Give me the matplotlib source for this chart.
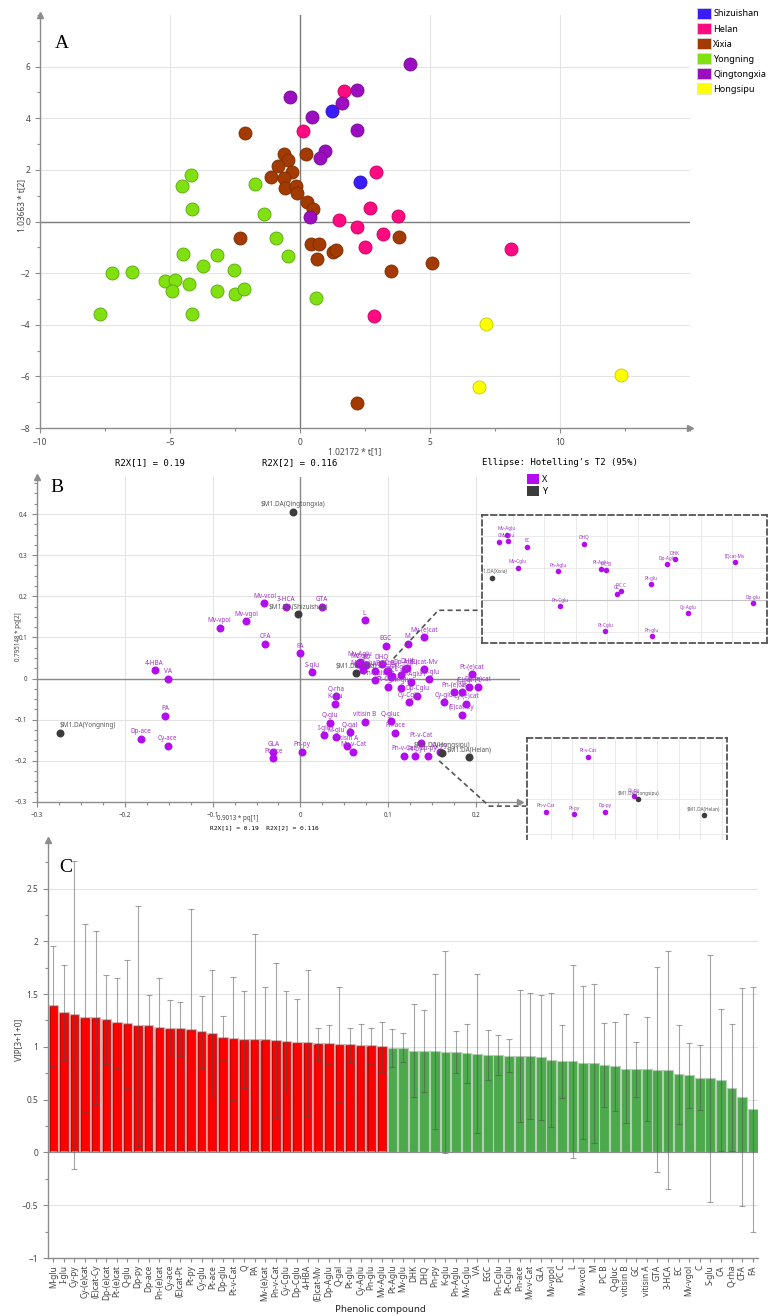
import numpy as np
import matplotlib
matplotlib.use('Agg')
import matplotlib.pyplot as plt
from matplotlib.patches import Patch
from matplotlib.ticker import MultipleLocator, FuncFormatter

# ---------------- panel A : OPLS-DA scores, one list pair per region
regions = ['Shizuishan', 'Helan', 'Xixia', 'Yongning', 'Qingtongxia', 'Hongsipu']

shizuishan_t1 = [1.24, 2.31]
shizuishan_t2 = [4.30, 1.52]
helan_t1 = [1.69, 0.12, 2.94, 2.69, 1.50, 2.18, 3.77, 3.19, 2.50, 2.85, 8.10]
helan_t2 = [5.04, 3.52, 1.91, 0.54, 0.07, -0.22, 0.20, -0.47, -1.00, -3.68, -1.08]
xixia_t1 = [-2.12, -0.61, -0.45, 0.23, -0.86, -0.31, -1.12, -0.62, -0.58, -0.15, -0.12,
            0.27, 0.51, -2.31, 0.42, 0.72, 0.65, 1.26, 1.38, 3.49, 2.18, 3.80, 5.07]
xixia_t2 = [3.41, 2.63, 2.39, 2.63, 2.14, 1.91, 1.72, 1.69, 1.31, 1.36, 1.10,
            0.74, 0.47, -0.65, -0.88, -0.88, -1.46, -1.19, -1.10, -1.90, -7.05, -0.60, -1.62]
yongning_t1 = [-4.18, -4.55, -4.15, -1.74, -1.39, -0.93, -0.46, -4.49, -3.18, -3.74, -2.54, -7.22,
               -6.47, -5.19, -4.79, -4.27, -4.92, -3.18, -2.50, -2.15, -7.70, -4.15, 0.60]
yongning_t2 = [1.82, 1.37, 0.48, 1.47, 0.30, -0.65, -1.35, -1.25, -1.28, -1.74, -1.86, -2.00,
               -1.94, -2.32, -2.25, -2.41, -2.71, -2.71, -2.80, -2.60, -3.57, -3.60, -2.98]
qingtongxia_t1 = [-0.38, 0.47, 1.63, 2.18, 2.18, 0.97, 0.76, 0.38, 4.23]
qingtongxia_t2 = [4.81, 4.03, 4.60, 5.08, 3.53, 2.73, 2.47, 0.17, 6.12]
hongsipu_t1 = [7.15, 6.87, 12.35]
hongsipu_t2 = [-3.96, -6.43, -5.93]

scoreT1 = [shizuishan_t1, helan_t1, xixia_t1, yongning_t1, qingtongxia_t1, hongsipu_t1]
scoreT2 = [shizuishan_t2, helan_t2, xixia_t2, yongning_t2, qingtongxia_t2, hongsipu_t2]

regionColors = {}
regionColors['Shizuishan'] = ('#3a1cff', '#2a10c0')
regionColors['Helan'] = ('#ff0a80', '#c80060')
regionColors['Xixia'] = ('#a33b00', '#7a2c00')
regionColors['Yongning'] = ('#80e010', '#5aa80a')
regionColors['Qingtongxia'] = ('#9b0ec0', '#720a90')
regionColors['Hongsipu'] = ('#ffff00', '#c8c800')

# ---------------- panel B : loadings pq[1], pq[2]
# spread out loadings
x_names = ['Mv-vpol', 'Mv-vgol', '4-HBA', 'VA', 'PA', 'Dp-ace', 'Cy-ace', 'Mv-vcol', '3-HCA', 'GTA',
           'L', 'CFA', 'FA', 'S-glu', 'EGC', 'M', 'Mv-(e)cat', 'Pt-(e)cat', 'Dp-(e)cat', '(E)cat-Pt',
           'Q', 'Pn-(e)cat', 'Cy-(e)cat', '(E)cat-Cy', 'Cy-glu', 'Dp-Cglu', 'Cy-Cglu', 'Q-rha', 'K-glu',
           'vitisin B', 'Q-gluc', 'Pn-ace', 'Q-glu', 'Q-gal', 'I-glu', 'M-glu', 'vitisin A', 'Mv-v-Cat',
           'GLA', 'Pt-ace', 'Pn-py']
x_p1 = [-0.092, -0.062, -0.166, -0.151, -0.154, -0.182, -0.151, -0.041, -0.016, 0.024,
        0.073, -0.040, 0.000, 0.013, 0.097, 0.122, 0.141, 0.195, 0.202, 0.192,
        0.184, 0.175, 0.189, 0.184, 0.163, 0.133, 0.124, 0.041, 0.039,
        0.073, 0.103, 0.108, 0.034, 0.056, 0.027, 0.040, 0.053, 0.060,
        -0.031, -0.031, 0.002]
x_p2 = [0.124, 0.139, 0.020, 0.000, -0.090, -0.146, -0.163, 0.183, 0.175, 0.175,
        0.142, 0.085, 0.061, 0.015, 0.080, 0.085, 0.100, 0.010, -0.020, -0.020,
        -0.032, -0.032, -0.061, -0.088, -0.058, -0.042, -0.058, -0.043, -0.061,
        -0.105, -0.104, -0.132, -0.107, -0.130, -0.138, -0.143, -0.163, -0.178,
        -0.178, -0.193, -0.178]
# crowded centre (upper zoom box)
centre_names = ['Mv-Aglu', 'C', 'Mv-glu', 'EC', 'DHQ', 'Mv-Cglu', 'Pn-Aglu', 'Pt-Aglu', 'PC B', 'PC C',
                'GC', 'Pt-glu', 'Dp-Aglu', 'DHK', '(E)cat-Mv', 'Dp-glu', 'Cy-Aglu', 'Pn-Cglu',
                'Pt-Cglu', 'Pn-glu']
centre_p1 = [0.0679, 0.0655, 0.0682, 0.0745, 0.0927, 0.0714, 0.0844, 0.0980, 0.0996, 0.1045,
             0.1031, 0.1140, 0.1194, 0.1218, 0.1412, 0.1467, 0.1261, 0.0850, 0.0994, 0.1144]
centre_p2 = [0.0404, 0.0362, 0.0366, 0.0331, 0.0350, 0.0199, 0.0178, 0.0194, 0.0186, 0.0056,
             0.0039, 0.0098, 0.0222, 0.0253, 0.0236, -0.0020, -0.0081, -0.0039, -0.0193, -0.0224]
# near Hongsipu / Helan (lower zoom box)
low_names = ['Pn-v-Cat', 'Pt-py', 'Dp-py', 'Cy-py', 'Pt-v-Cat']
low_p1 = [0.1178, 0.1308, 0.1456, 0.1589, 0.1377]
low_p2 = [-0.1874, -0.1888, -0.1874, -0.1785, -0.1562]
# class (Y) loadings
y_names = ['$M1.DA(Yongning)', '$M1.DA(Shizuishan)', '$M1.DA(Qingtongxia)', '$M1.DA(Xixia)',
           '$M1.DA(Hongsipu)', '$M1.DA(Helan)']
y_p1 = [-0.274, -0.003, -0.008, 0.0631, 0.161, 0.1916]
y_p2 = [-0.132, 0.156, 0.405, 0.0139, -0.1803, -0.1894]

# ---------------- panel C : VIP with confidence intervals
vip_high_names = ['M-glu', 'I-glu', 'Cy-py', 'Cy-(e)cat', '(E)cat-Cy', 'Dp-(e)cat', 'Pt-(e)cat', 'Q-glu',
                  'Dp-py', 'Dp-ace', 'Pn-(e)cat', 'Cy-ace', '(E)cat-Pt', 'Pt-py', 'Cy-glu', 'Pt-ace',
                  'Dp-glu', 'Pt-v-Cat', 'Q', 'PA', 'Mv-(e)cat', 'Pn-v-Cat', 'Cy-Cglu', 'Dp-Cglu',
                  '4-HBA', '(E)cat-Mv', 'Dp-Aglu', 'Q-gal', 'Pt-glu', 'Cy-Aglu', 'Pn-glu', 'Mv-Aglu']
vip_high = [1.387, 1.324, 1.300, 1.277, 1.277, 1.258, 1.226, 1.217, 1.198, 1.198, 1.182, 1.173,
            1.170, 1.164, 1.140, 1.126, 1.082, 1.079, 1.069, 1.069, 1.063, 1.060, 1.047, 1.038,
            1.035, 1.028, 1.025, 1.022, 1.019, 1.013, 1.009, 1.000]
vip_high_ci = [0.57, 0.45, 1.46, 0.89, 0.82, 0.42, 0.43, 0.61, 1.14, 0.29, 0.47, 0.27,
               0.255, 1.14, 0.34, 0.60, 0.21, 0.58, 0.46, 1.00, 0.50, 0.73, 0.48, 0.415,
               0.69, 0.15, 0.185, 0.545, 0.16, 0.20, 0.17, 0.24]
vip_low_names = ['Pt-Aglu', 'Mv-glu', 'DHK', 'DHQ', 'Pn-py', 'K-glu', 'Pn-Aglu', 'Mv-Cglu', 'VA', 'EGC',
                 'Pn-Cglu', 'Pt-Cglu', 'Pn-ace', 'Mv-v-Cat', 'GLA', 'Mv-vpol', 'PC C', 'L', 'Mv-vcol',
                 'M', 'PC B', 'Q-gluc', 'vitisin B', 'GC', 'vitisin A', 'GTA', '3-HCA', 'EC', 'Mv-vgol',
                 'C', 'S-glu', 'CA', 'Q-rha', 'CFA', 'FA']
vip_low = [0.994, 0.994, 0.965, 0.959, 0.959, 0.950, 0.950, 0.940, 0.937, 0.924, 0.924, 0.918,
           0.915, 0.912, 0.900, 0.874, 0.864, 0.864, 0.852, 0.845, 0.830, 0.817, 0.795, 0.789,
           0.789, 0.785, 0.779, 0.741, 0.729, 0.710, 0.703, 0.685, 0.615, 0.524, 0.407]
vip_low_ci = [0.18, 0.14, 0.44, 0.39, 0.735, 0.955, 0.20, 0.28, 0.757, 0.24, 0.186, 0.158,
              0.624, 0.596, 0.595, 0.637, 0.347, 0.912, 0.722, 0.755, 0.397, 0.42, 0.514, 0.26,
              0.49, 0.97, 1.13, 0.47, 0.31, 0.31, 1.17, 0.67, 0.60, 1.03, 1.16]

# ---------------------------------------------------------------- figure
plt.rcParams['font.family'] = ['Noto Sans', 'DejaVu Sans']
W, H = 768, 1316
fig = plt.figure(figsize=(W / 100, H / 100), dpi=100)

AXIS = '#8c8c8c'
GRID = '#e4e4e4'
PURPLE = '#b30cf0'
PURPLE_TXT = '#a032c8'
DARK = '#3c3c3c'


def box(x0, y0, x1, y1):
    # axes placed by their pixel corners in the reference
    return fig.add_axes([x0 / W, 1 - y1 / H, (x1 - x0) / W, (y1 - y0) / H])


def fmt(v, pos):
    if abs(v) < 1e-9:
        return '0'
    return ('%g' % round(v, 6)).replace('-', '\u2212')


def simca_axes(ax, labelsize, arrow_x=True):
    ax.spines['top'].set_visible(False)
    ax.spines['right'].set_visible(False)
    for s in ['left', 'bottom']:
        ax.spines[s].set_color(AXIS)
        ax.spines[s].set_linewidth(1.0)
    ax.tick_params(which='both', direction='out', color=AXIS, labelcolor='#444444',
                   labelsize=labelsize, width=0.8)
    ax.tick_params(which='major', length=3.5)
    ax.tick_params(which='minor', length=2)
    ax.xaxis.set_major_formatter(FuncFormatter(fmt))
    ax.yaxis.set_major_formatter(FuncFormatter(fmt))
    ax.plot(0, 1, '^', transform=ax.transAxes, clip_on=False, color=AXIS, ms=5, zorder=6)
    if arrow_x:
        ax.plot(1, 0, '>', transform=ax.transAxes, clip_on=False, color=AXIS, ms=5, zorder=6)
    ax.set_axisbelow(True)


def ftext(x, y, s, **kw):
    fig.text(x / W, 1 - y / H, s, **kw)


# ---------------- A
axA = box(40, 15, 690, 428)
axA.set_xlim(-10, 15)
axA.set_ylim(-8, 8)
axA.set_xticks([-10, -5, 0, 5, 10])
axA.set_yticks([-8, -6, -4, -2, 0, 2, 4, 6])
axA.xaxis.set_minor_locator(MultipleLocator(2.5))
axA.yaxis.set_minor_locator(MultipleLocator(1))
simca_axes(axA, 6)
axA.grid(True, which='major', color=GRID, lw=0.8)
axA.axhline(0, color='#7c7c7c', lw=1, zorder=1)
axA.axvline(0, color='#7c7c7c', lw=1, zorder=1)

for i, region in enumerate(regions):
    face, edge = regionColors[region]
    axA.scatter(scoreT1[i], scoreT2[i], s=88, color=face, edgecolors=edge, linewidths=0.6,
                zorder=3, label=region)

legHandles = [Patch(facecolor=regionColors[r][0], edgecolor='#dddddd', lw=0.5, label=r) for r in regions]
fig.legend(handles=legHandles, loc='upper left', bbox_to_anchor=(697 / W, 1 - 8 / H), frameon=False,
           fontsize=6.5, handlelength=1.5, handleheight=1.5, handletextpad=0.3, labelspacing=0.45,
           borderaxespad=0, borderpad=0)

ftext(55, 43, 'A', family='Liberation Serif', fontsize=14, va='center', ha='left')
ftext(22, 205, '1.03663 * t[2]', rotation=90, ha='center', va='center', fontsize=6, color='#444444')
ftext(355, 452, '1.02172 * t[1]', ha='center', va='center', fontsize=6, color='#444444')
ftext(150, 463, 'R2X[1] = 0.19', ha='center', va='center', fontsize=6.5, family='DejaVu Sans Mono')
ftext(300, 463, 'R2X[2] = 0.116', ha='center', va='center', fontsize=6.5, family='DejaVu Sans Mono')
ftext(560, 463, "Ellipse: Hotelling's T2 (95%)", ha='center', va='center', fontsize=6.5,
      family='DejaVu Sans Mono')

# ---------------- B
load_names = x_names + centre_names + low_names
load_p1 = x_p1 + centre_p1 + low_p1
load_p2 = x_p2 + centre_p2 + low_p2


def draw_loadings(ax, ms, fs, clip):
    ax.scatter(load_p1, load_p2, s=ms, color=PURPLE, zorder=3, clip_on=clip, linewidths=0)
    ax.scatter(y_p1, y_p2, s=ms, color=DARK, zorder=4, clip_on=clip, linewidths=0)
    for n, a, b in zip(load_names, load_p1, load_p2):
        ax.annotate(n, (a, b), xytext=(0, 2.5), textcoords='offset points', ha='center', va='bottom',
                    fontsize=fs, color=PURPLE_TXT, annotation_clip=clip, clip_on=clip)
    for n, a, b in zip(y_names, y_p1, y_p2):
        ha = 'left' if 'Yongning' in n else 'center'
        ax.annotate(n.replace('$', r'\$'), (a, b), xytext=(0, 2.5), textcoords='offset points', ha=ha,
                    va='bottom', fontsize=fs, color='#555555', annotation_clip=clip, clip_on=clip)


axB = box(37, 477, 520, 802)
axB.set_xlim(-0.3, 0.25)
axB.set_ylim(-0.3, 0.49)
axB.set_xticks(np.arange(-0.3, 0.21, 0.1))
axB.set_yticks(np.arange(-0.3, 0.41, 0.1))
axB.xaxis.set_minor_locator(MultipleLocator(0.025))
axB.yaxis.set_minor_locator(MultipleLocator(0.025))
simca_axes(axB, 4.5)
axB.grid(True, which='major', color=GRID, lw=0.8)
axB.axhline(0, color='#8a8a8a', lw=1, zorder=1)
axB.axvline(0, color='#8a8a8a', lw=1, zorder=1)
draw_loadings(axB, 33, 4.6, False)

# dashed leaders to the zoom boxes
axB.plot([0.106, 0.157, 0.206], [0.049, 0.166, 0.166], ls=(0, (3, 2)), color='#555555', lw=1.2,
         clip_on=False, zorder=5)
axB.plot([0.158, 0.215, 0.257], [-0.200, -0.310, -0.310], ls=(0, (3, 2)), color='#555555', lw=1.2,
         clip_on=False, zorder=5)

legB = [Patch(facecolor=PURPLE, label='X'), Patch(facecolor=DARK, label='Y')]
fig.legend(handles=legB, loc='upper left', bbox_to_anchor=(527 / W, 1 - 474 / H), frameon=False,
           fontsize=6.5, handlelength=1.3, handleheight=1.3, handletextpad=0.4, labelspacing=0.25,
           borderaxespad=0, borderpad=0)

ftext(50, 488, 'B', family='Liberation Serif', fontsize=14, va='center', ha='left')
ftext(18, 637, '0.795148 * pq[2]', rotation=90, ha='center', va='center', fontsize=4.5, color='#444444')
ftext(238, 819, '0.9013 * pq[1]', ha='center', va='center', fontsize=4.5, color='#444444')
ftext(264, 828, 'R2X[1] = 0.19  R2X[2] = 0.116', ha='center', va='center', fontsize=4.5,
      family='DejaVu Sans Mono')


def zoom_box(ax, xt, yt):
    ax.set_xticks(xt)
    ax.set_yticks(yt)
    ax.tick_params(length=0, labelbottom=False, labelleft=False)
    ax.grid(True, color='#e6e6e6', lw=0.6)
    ax.set_axisbelow(True)
    for sp in ax.spines.values():
        sp.set_linestyle((0, (3, 2)))
        sp.set_color('#555555')
        sp.set_linewidth(1.3)


zb1 = box(482, 515, 767, 643)
zb1.set_xlim(0.06, 0.1513)
zb1.set_ylim(-0.0267, 0.0528)
zoom_box(zb1, np.arange(0.07, 0.15, 0.01), [-0.02, 0.02, 0.04])
zb1.axhline(0, color='#c4c4c4', lw=0.8, zorder=1)
draw_loadings(zb1, 16, 3.4, True)

zb2 = box(527, 738, 727, 841)
zb2.set_xlim(0.109, 0.2025)
zb2.set_ylim(-0.204, -0.1456)
zoom_box(zb2, np.arange(0.12, 0.201, 0.01), [-0.2, -0.18, -0.16])
draw_loadings(zb2, 16, 3.4, True)

# ---------------- C
vip_names = vip_high_names + vip_low_names
vip = vip_high + vip_low
vip_ci = vip_high_ci + vip_low_ci
pos = np.arange(len(vip))
nHigh = len(vip_high)

axC = box(48, 840, 758, 1258)
axC.set_xlim(-0.5, len(vip) - 0.5)
axC.set_ylim(-1, 2.96)
axC.set_yticks(np.arange(-1, 2.51, 0.5))
axC.yaxis.set_minor_locator(MultipleLocator(0.25))
simca_axes(axC, 6, arrow_x=False)
axC.grid(True, axis='y', which='major', color=GRID, lw=0.8)

axC.bar(pos[:nHigh], vip_high, width=0.9, color='#ff0000', edgecolor='#d8a4a4', linewidth=1.2, zorder=2)
axC.bar(pos[:nHigh], vip_high, width=0.7, fill=False, edgecolor='#b00000', linewidth=0.5, zorder=2)
axC.bar(pos[nHigh:], vip_low, width=0.92, color='#4caa4c', edgecolor='#b4ceb4', linewidth=0.8, zorder=2)
axC.errorbar(pos, vip, yerr=vip_ci, fmt='none', ecolor=(0.3, 0.3, 0.3), alpha=0.5, elinewidth=0.8,
             capsize=2.3, capthick=0.8, zorder=3)
axC.axhline(0, color='#909090', lw=0.8, zorder=2.5)

axC.set_xticks(pos)
axC.set_xticklabels(vip_names, rotation=90, fontsize=6)
axC.tick_params(axis='x', length=3, pad=2)

ftext(59, 867, 'C', family='Liberation Serif', fontsize=14, va='center', ha='left')
ftext(19, 1040, 'VIP[3+1+0]', rotation=90, ha='center', va='center', fontsize=6, color='#444444')
ftext(380, 1309, 'Phenolic compound', ha='center', va='center', fontsize=7, color='#222222')

fig.savefig('out.png', dpi=100)
